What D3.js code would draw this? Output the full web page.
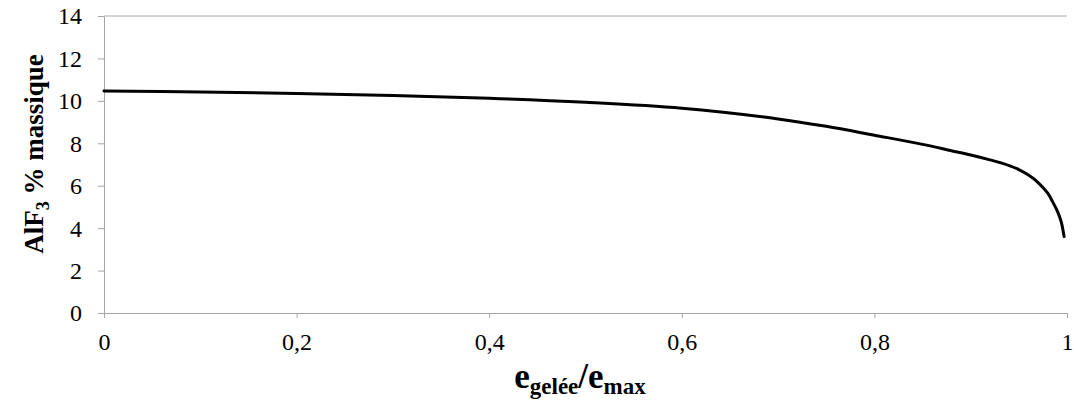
<!DOCTYPE html>
<html>
<head>
<meta charset="utf-8">
<script src="https://cdn.jsdelivr.net/npm/d3@7"></script>
<style>
  html, body { margin: 0; padding: 0; background: #fff; }
  svg { display: block; }
  svg text { font-family: "Liberation Serif", "Times New Roman", serif; }
</style>
</head>
<body>
<svg id="chart" width="1074" height="408"></svg>
<script>
// Fraction of frozen thickness (e_gelée / e_max)
const frozenRatio = [0, 0.1, 0.2, 0.3, 0.4, 0.5, 0.6, 0.7, 0.75, 0.8, 0.85, 0.88, 0.9, 0.92, 0.94, 0.95, 0.96, 0.97, 0.98, 0.985, 0.99, 0.994, 0.997];
// AlF3 mass percentage in the remaining bath
const alf3Mass = [10.47, 10.42, 10.35, 10.25, 10.12, 9.93, 9.65, 9.15, 8.8, 8.38, 7.95, 7.65, 7.45, 7.22, 6.95, 6.76, 6.5, 6.15, 5.65, 5.25, 4.8, 4.3, 3.6];
const xTicks = [0, 0.2, 0.4, 0.6, 0.8, 1];
const yTicks = [0, 2, 4, 6, 8, 10, 12, 14];

const svg = d3.select("#chart");
const plotLeft = 104, plotRight = 1067, plotTop = 16, plotBottom = 313;

const x = d3.scaleLinear().domain([0, 1]).range([plotLeft, plotRight]);
const y = d3.scaleLinear().domain([0, 14]).range([plotBottom, plotTop]);
const fmt = d => String(d).replace(".", ",");

// top border line of the plot area
svg.append("line")
  .attr("x1", plotLeft).attr("x2", plotRight)
  .attr("y1", y(14)).attr("y2", y(14))
  .attr("stroke", "#a6a6a6").attr("stroke-width", 1);

// x axis
const gx = svg.append("g")
  .attr("transform", `translate(0,${plotBottom})`)
  .call(d3.axisBottom(x).tickValues(xTicks).tickFormat(fmt).tickSizeInner(5).tickSizeOuter(0).tickPadding(15));

// y axis
const gy = svg.append("g")
  .attr("transform", `translate(${plotLeft},0)`)
  .call(d3.axisLeft(y).tickValues(yTicks).tickFormat(d => d).tickSizeInner(6).tickSizeOuter(0).tickPadding(16));

[gx, gy].forEach(g => {
  g.attr("font-family", null).attr("font-size", null);
  g.select(".domain").attr("stroke", "#a6a6a6").attr("stroke-width", 1);
  g.selectAll(".tick line").attr("stroke", "#a6a6a6");
  g.selectAll(".tick text")
    .attr("fill", "#000")
    .style("font-size", "24px");
});
gy.selectAll(".tick text").attr("dy", "0.33em");

// data curve
const line = d3.line()
  .x((d, i) => x(frozenRatio[i]))
  .y(d => y(d))
  .curve(d3.curveCatmullRom.alpha(0.5));

svg.append("path")
  .datum(alf3Mass)
  .attr("d", line)
  .attr("fill", "none")
  .attr("stroke", "#000")
  .attr("stroke-width", 3)
  .attr("stroke-linecap", "round");

// x axis title
const xt = svg.append("text")
  .attr("x", 580).attr("y", 388)
  .attr("text-anchor", "middle")
  .attr("font-weight", "bold")
  .attr("font-size", 35);
xt.append("tspan").text("e");
xt.append("tspan").attr("font-size", 23).attr("dy", 6).text("gelée");
xt.append("tspan").attr("dy", -6).text("/e");
xt.append("tspan").attr("font-size", 23).attr("dy", 6).text("max");

// y axis title
const yt = svg.append("text")
  .attr("transform", "translate(43,154) rotate(-90)")
  .attr("text-anchor", "middle")
  .attr("font-weight", "bold")
  .attr("font-size", 27);
yt.append("tspan").text("AlF");
yt.append("tspan").attr("font-size", 18).attr("dy", 6).text("3");
yt.append("tspan").attr("dy", -6).text(" % massique");
</script>
</body>
</html>
